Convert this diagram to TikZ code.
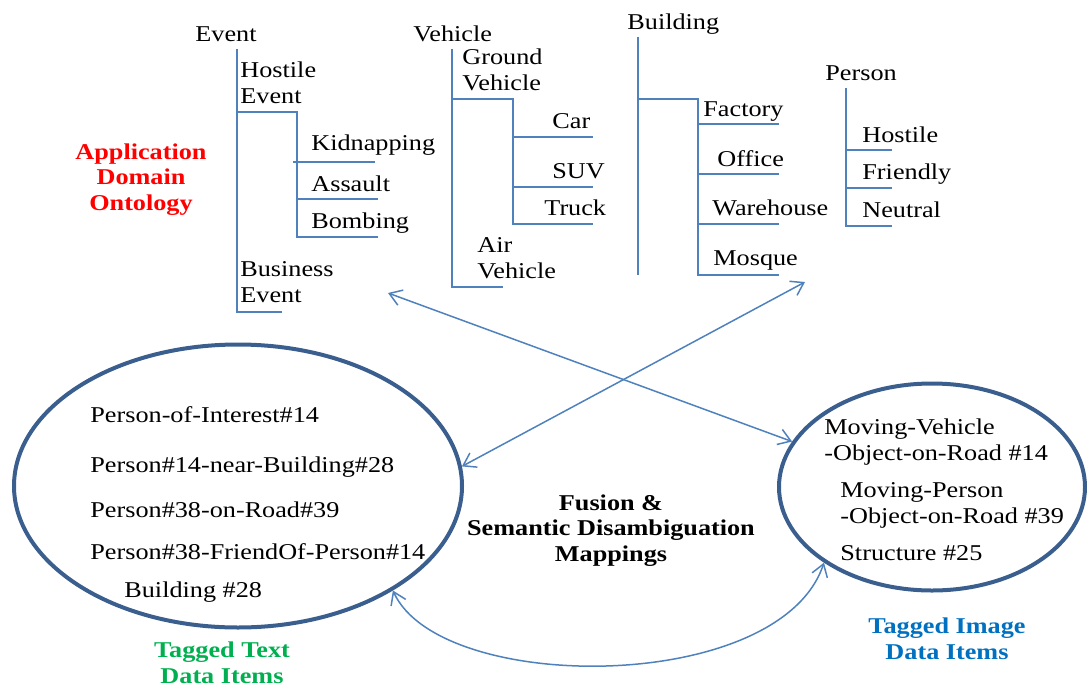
\documentclass[tikz,border=0pt]{standalone}
\usepackage{fontspec}
\setmainfont{Liberation Serif}[FakeStretch=1.16]
\usetikzlibrary{shapes.geometric, arrows.meta, positioning}

\definecolor{lineblue}{HTML}{4F81BD}
\definecolor{ringblue}{HTML}{3A5F8E}
\definecolor{ontored}{HTML}{FF0000}
\definecolor{textgreen}{HTML}{00B050}
\definecolor{imageblue}{HTML}{0070C0}

\begin{document}
\begin{tikzpicture}[x=0.5pt,y=-0.5pt,>={Straight Barb[length=6pt,width=8pt]},
    item/.style={anchor=base west,inner sep=0pt,align=left,font=\fontsize{11.3}{12.6}\selectfont},
    title/.style={anchor=base,inner sep=0pt,align=center,font=\fontsize{11.3}{12.6}\selectfont\bfseries},
    branch/.style={draw=lineblue,line width=1pt},
    link/.style={draw=lineblue,line width=0.75pt,<->},
    ring/.style={ellipse,draw=ringblue,line width=2pt,inner sep=0pt}]
\useasboundingbox (0,0) rectangle (1087,686);

% ontology trees (two-line labels sit on their last baseline)
\node[item] (event)    at (195,41)  {Event};
\node[item] (hostev)   at (240,103) {Hostile\\Event};
\node[item] (kidnap)   at (311,150) {Kidnapping};
\node[item] (assault)  at (311,191) {Assault};
\node[item] (bombing)  at (311,228) {Bombing};
\node[item] (busev)    at (240,302) {Business\\Event};

\node[item] (vehicle)  at (413,41)  {Vehicle};
\node[item] (groundv)  at (462,90)  {Ground\\Vehicle};
\node[item] (car)      at (552,128) {Car};
\node[item] (suv)      at (552,178) {SUV};
\node[item] (truck)    at (544,215) {Truck};
\node[item] (airv)     at (477,278) {Air\\Vehicle};

\node[item] (building) at (627,29)  {Building};
\node[item] (factory)  at (703,116) {Factory};
\node[item] (office)   at (717,166) {Office};
\node[item] (warehouse) at (712,215) {Warehouse};
\node[item] (mosque)   at (713,265) {Mosque};

\node[item] (person)   at (825,80)  {Person};
\node[item] (hostile)  at (862,142) {Hostile};
\node[item] (friendly) at (862,179) {Friendly};
\node[item] (neutral)  at (862,217) {Neutral};

\draw[branch] (237,49) -- (237,312) -- (282,312);
\draw[branch] (237,112) -- (297,112) -- (297,237) -- (378,237);
\draw[branch] (293,162) -- (375,162);
\draw[branch] (297,199) -- (378,199);

\draw[branch] (452,49) -- (452,287) -- (503,287);
\draw[branch] (452,99) -- (513,99) -- (513,224) -- (593,224);
\foreach \y in {137,187}
  \draw[branch] (513,\y) -- (593,\y);

\draw[branch] (638,37) -- (638,275);
\draw[branch] (638,99) -- (698,99) -- (698,275) -- (779,275);
\foreach \y in {124,174,224}
  \draw[branch] (698,\y) -- (779,\y);

\draw[branch] (846,88) -- (846,226) -- (892,226);
\foreach \y in {150,188}
  \draw[branch] (846,\y) -- (892,\y);

\node[title,text=ontored] (onto) at (141,210) {Application\\Domain\\Ontology};

% data item sets
\node[ring,minimum width=224pt,minimum height=141.5pt] (textset) at (238,486) {};
\node[item] (poi)    at (90,422) {Person-of-Interest\#14};
\node[item] (near)   at (90,472) {Person\#14-near-Building\#28};
\node[item] (onroad) at (90,517) {Person\#38-on-Road\#39};
\node[item] (friend) at (90,559) {Person\#38-FriendOf-Person\#14};
\node[item] (bldg)   at (124,597) {Building \#28};
\node[title,text=textgreen] (textlbl) at (222,683) {Tagged Text\\Data Items};

\node[ring,minimum width=153pt,minimum height=103.5pt] (imageset) at (932,487) {};
\node[item] (movveh) at (824,460) {Moving-Vehicle\\-Object-on-Road \#14};
\node[item] (movper) at (840,523) {Moving-Person\\-Object-on-Road \#39};
\node[item] (struct) at (840,560) {Structure \#25};
\node[title,text=imageblue] (imagelbl) at (947,659) {Tagged Image\\Data Items};

\node[title] (fusion) at (611,561) {Fusion \&\\Semantic Disambiguation\\Mappings};

% mappings
\coordinate (evtip) at (388,293);
\coordinate (bdtip) at (805,282);
\draw[link] (evtip) -- (imageset.162);
\draw[link] (bdtip) -- (textset.5);
\draw[link] (textset.-34) .. controls (440,695) and (780,695) .. (imageset.215);
\end{tikzpicture}
\end{document}
